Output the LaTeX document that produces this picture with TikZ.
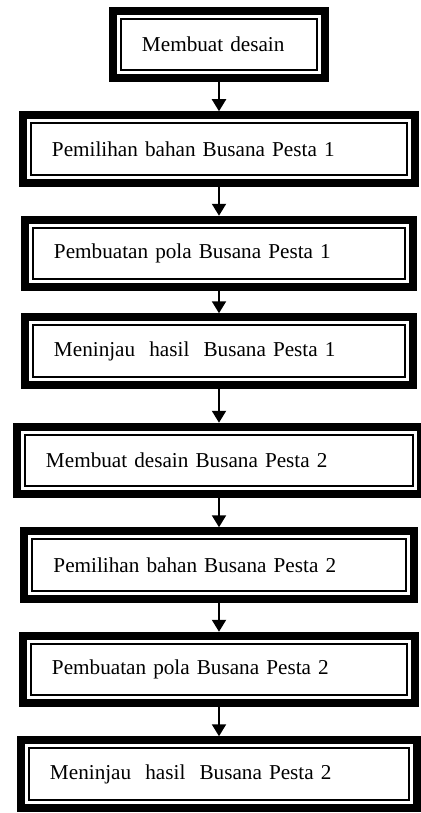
\documentclass[tikz,border=0pt]{standalone}
\usepackage{fontspec}
\setmainfont{Liberation Serif}
\usetikzlibrary{arrows.meta,positioning,calc}

\begin{document}
\begin{tikzpicture}[
  node distance=14.5pt, font=\fontsize{10.6}{12.7}\selectfont,
  box/.style={draw, line width=4pt, minimum height=33.75pt, inner xsep=14.5pt,
              align=left},
  ar/.style={-{Triangle[length=6pt, width=7pt]}, line width=1pt}]
  \useasboundingbox (-109.5pt,22.25pt) rectangle (100.5pt,-384.25pt);
  \node[box, text width=77pt] (a) {Membuat desain};
  \node[box, text width=167pt, below=of a] (b) {Pemilihan bahan Busana Pesta 1};
  \node[box, text width=165pt, below=of b] (c) {Pembuatan pola Busana Pesta 1};
  \node[box, text width=165pt, below=11pt of c] (d) {Meninjau~~hasil~~Busana Pesta 1};
  \node[box, text width=173pt, below=17pt of d] (e) {Membuat desain Busana Pesta 2};
  \node[box, text width=165.5pt, below=of e] (f) {Pemilihan bahan Busana Pesta 2};
  \node[box, text width=167pt, below=of f] (g) {Pembuatan pola Busana Pesta 2};
  \node[box, text width=169pt, below=of g] (h) {Meninjau~~hasil~~Busana Pesta 2};
  % thin inner frame
  \foreach \n in {a,...,h}
    \draw[line width=1pt] ($(\n.north west)+(6pt,-6pt)$) rectangle ($(\n.south east)+(-6pt,6pt)$);
  \foreach \i/\j in {a/b, b/c, c/d, d/e, e/f, f/g, g/h} \draw[ar] (\i) -- (\j);
\end{tikzpicture}
\end{document}
